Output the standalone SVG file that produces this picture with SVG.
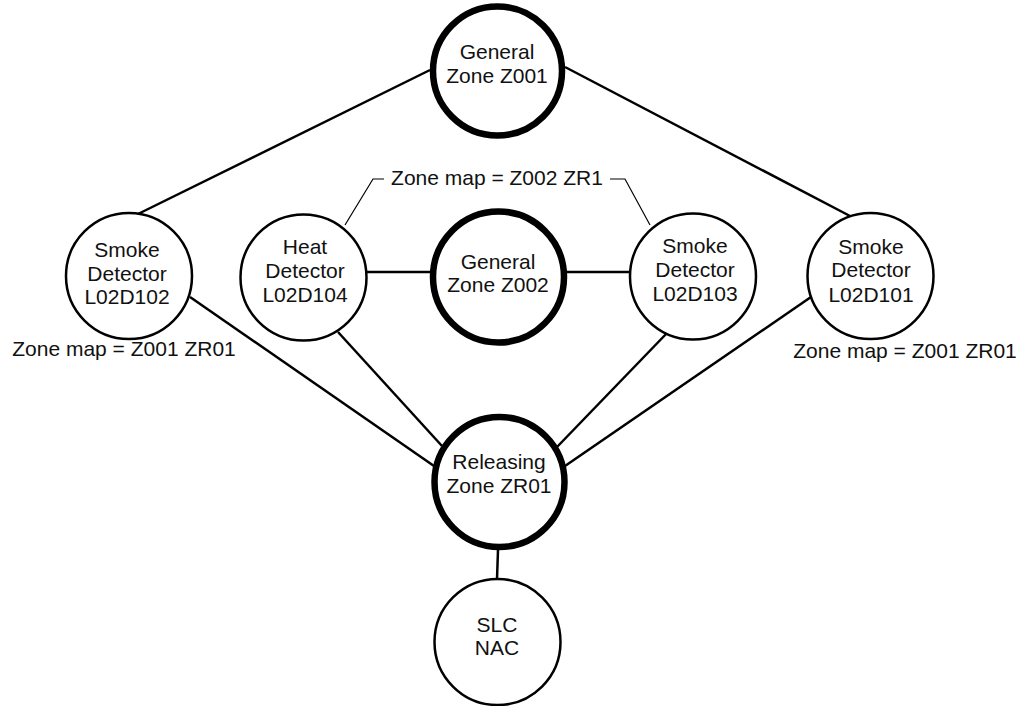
<svg xmlns="http://www.w3.org/2000/svg" width="1027" height="706" viewBox="0 0 1027 706">
<style>
.bg{fill:#fff}
.n{fill:#fff;stroke:#000;stroke-width:2.5}
.z{fill:#fff;stroke:#000;stroke-width:6.5}
.c{stroke:#000;stroke-width:2.5;fill:none}
.b{stroke:#000;stroke-width:1.2;fill:none}
text{font-family:"Liberation Sans",Arial,sans-serif;font-size:21px;fill:#111;text-anchor:middle}
</style>
<rect class="bg" x="0" y="0" width="1027" height="706"/>
<g id="connectors">
<line class="c" x1="430" y1="70" x2="138" y2="214"/>
<line class="c" x1="565" y1="67" x2="850" y2="216"/>
<line class="c" x1="190" y1="297" x2="434" y2="466"/>
<line class="c" x1="338" y1="332" x2="442" y2="446"/>
<line class="c" x1="668" y1="332" x2="557" y2="447"/>
<line class="c" x1="811" y1="297" x2="565" y2="466"/>
<line class="c" x1="367" y1="272" x2="432" y2="272"/>
<line class="c" x1="565" y1="272" x2="629" y2="272"/>
<line class="c" x1="498" y1="550" x2="497" y2="579"/>
<polyline class="b" points="345,225 373,179 384,179"/>
<polyline class="b" points="610,179 625,179 650,225"/>
</g>
<g id="Z001">
<circle class="z" cx="497.5" cy="71" r="64.5"/>
<text x="497" y="59">General</text>
<text x="497" y="83">Zone Z001</text>
</g>
<g id="Z002">
<circle class="z" cx="498.5" cy="277" r="65.5"/>
<text x="498" y="269">General</text>
<text x="498" y="292">Zone Z002</text>
</g>
<g id="ZR01">
<circle class="z" cx="499.5" cy="482" r="65"/>
<text x="499" y="469">Releasing</text>
<text x="499" y="493">Zone ZR01</text>
</g>
<g id="SLCNAC">
<circle class="n" cx="497.5" cy="642" r="63"/>
<text x="497" y="632">SLC</text>
<text x="497" y="655">NAC</text>
</g>
<g id="L02D102">
<circle class="n" cx="129" cy="276" r="63"/>
<text x="127" y="257">Smoke</text>
<text x="127" y="281">Detector</text>
<text x="127" y="304">L02D102</text>
</g>
<g id="L02D104">
<circle class="n" cx="303.5" cy="277.5" r="63"/>
<text x="305" y="254">Heat</text>
<text x="305" y="278">Detector</text>
<text x="305" y="302">L02D104</text>
</g>
<g id="L02D103">
<circle class="n" cx="693" cy="276.5" r="63"/>
<text x="695" y="253">Smoke</text>
<text x="695" y="277">Detector</text>
<text x="695" y="301">L02D103</text>
</g>
<g id="L02D101">
<circle class="n" cx="870.5" cy="276" r="63"/>
<text x="871" y="254">Smoke</text>
<text x="871" y="277">Detector</text>
<text x="871" y="302">L02D101</text>
</g>
<g id="labels">
<text x="497" y="185">Zone map = Z002 ZR1</text>
<text x="124" y="356">Zone map = Z001 ZR01</text>
<text x="905" y="358">Zone map = Z001 ZR01</text>
</g>
</svg>
